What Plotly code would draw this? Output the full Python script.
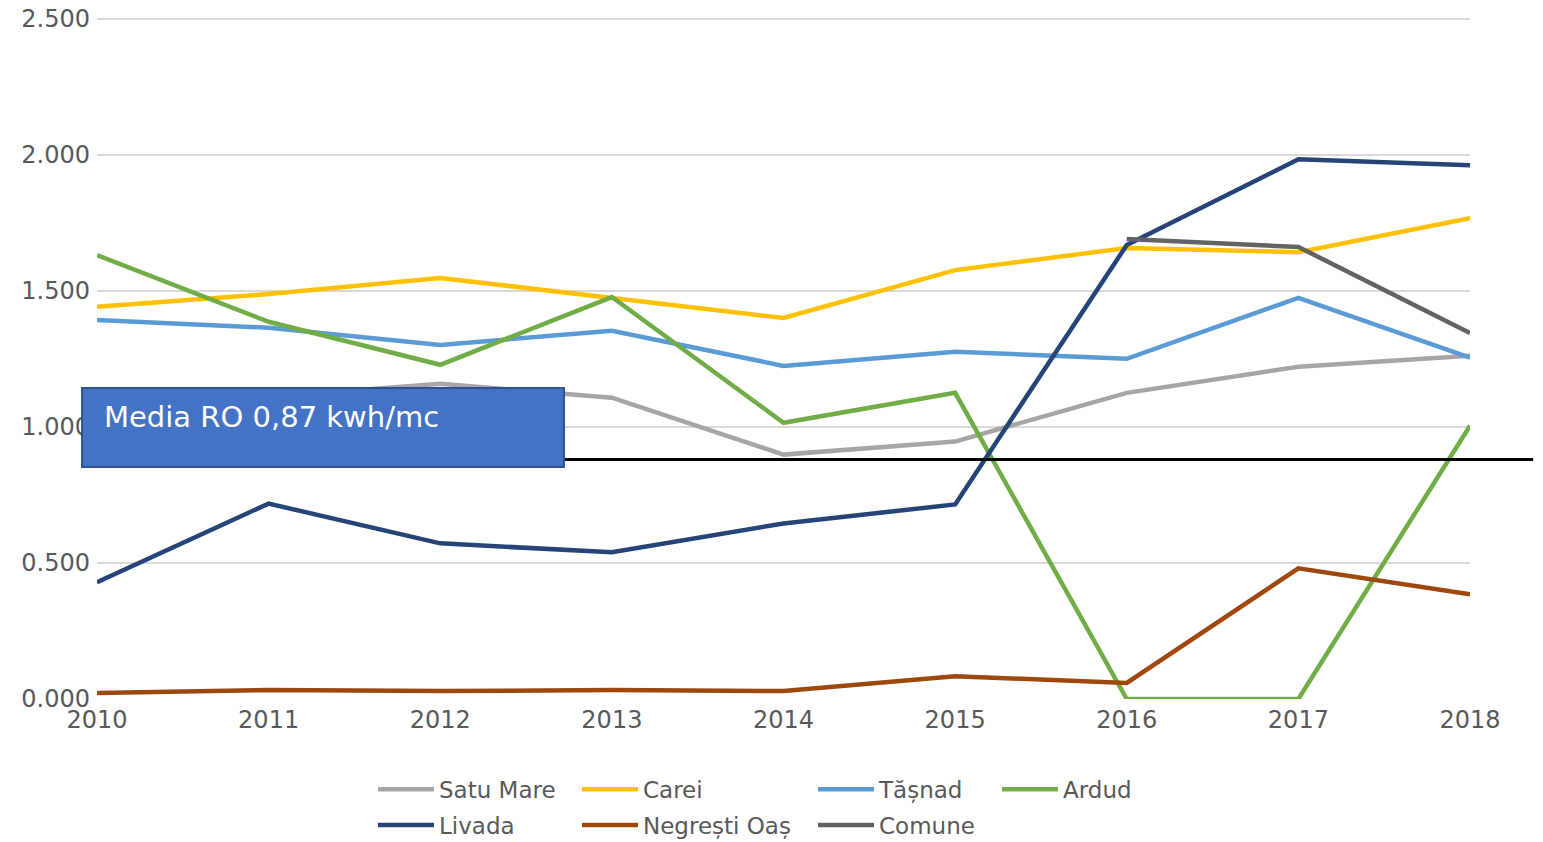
import plotly.graph_objects as go

years = [2010, 2011, 2012, 2013, 2014, 2015, 2016, 2017, 2018]
satu_mare = [1.08, 1.11, 1.158, 1.107, 0.898, 0.946, 1.125, 1.221, 1.261]
carei = [1.441, 1.488, 1.547, 1.474, 1.400, 1.576, 1.657, 1.642, 1.767]
tasnad = [1.393, 1.364, 1.301, 1.353, 1.224, 1.276, 1.250, 1.474, 1.254]
ardud = [1.631, 1.386, 1.228, 1.477, 1.015, 1.125, 0.0, 0.0, 1.004]
livada = [0.429, 0.718, 0.572, 0.539, 0.645, 0.715, 1.668, 1.983, 1.961]
negresti = [0.022, 0.033, 0.029, 0.033, 0.029, 0.084, 0.059, 0.480, 0.385]
comune = [None, None, None, None, None, None, 1.690, 1.661, 1.345]
media_ro = 0.88
y_ticks = [0, 0.5, 1.0, 1.5, 2.0, 2.5]

series = [
    ("Satu Mare", satu_mare, "#A5A5A5", "legend"),
    ("Carei", carei, "#FFC000", "legend2"),
    ("Tășnad", tasnad, "#5B9BD5", "legend3"),
    ("Ardud", ardud, "#70AD47", "legend4"),
    ("Livada", livada, "#264478", "legend"),
    ("Negrești Oaș", negresti, "#9E480E", "legend2"),
    ("Comune", comune, "#636363", "legend3"),
]

fig = go.Figure()
for name, vals, col, leg in series:
    fig.add_trace(go.Scatter(x=years, y=vals, name=name, mode="lines",
                             legend=leg, legendgroup=name,
                             line=dict(color=col, width=4.5)))

font_family = "DejaVu Sans"
legend_font = dict(size=23, color="#595959", family=font_family)


def leg(x):
    return dict(orientation="v", x=x, xanchor="left",
                yref="container", y=0.089, yanchor="top",
                font=legend_font, tracegroupgap=3, itemwidth=56,
                bgcolor="rgba(0,0,0,0)")


fig.update_layout(
    width=1535, height=834,
    margin=dict(l=89, r=73, t=9, b=143, autoexpand=False),
    plot_bgcolor="white", paper_bgcolor="white",
    font=dict(family=font_family, color="#595959", size=24),
    showlegend=True,
    legend=leg(0.2010),
    legend2=leg(0.3496),
    legend3=leg(0.5215),
    legend4=leg(0.6555),
    xaxis=dict(range=[2010, 2018], tickvals=years, ticktext=[str(y) for y in years],
               showgrid=False, zeroline=False, showline=False, ticks="",
               ticklabelstandoff=4, ticklabeloverflow="allow",
               tickfont=dict(size=24, color="#595959")),
    yaxis=dict(range=[0, 2.506], tickvals=y_ticks, tickformat=".3f",
               showgrid=True, gridcolor="#D9D9D9", gridwidth=1.5, zeroline=False,
               showline=False, ticks="", ticklabelstandoff=6,
               ticklabeloverflow="allow",
               tickfont=dict(size=24, color="#595959")),
)

# Media RO reference line
fig.add_shape(type="line", xref="paper", yref="y", x0=0, x1=1.046,
              y0=media_ro, y1=media_ro, line=dict(color="black", width=3),
              layer="above")
# Label box
fig.add_shape(type="rect", xref="paper", yref="paper", x0=-0.0109, x1=0.3401,
              y0=0.3402, y1=0.456, fillcolor="#4472C4",
              line=dict(color="#2F528F", width=2), layer="above")
fig.add_annotation(xref="paper", yref="paper", x=0.0036, y=0.4135,
                   xanchor="left", yanchor="middle", showarrow=False,
                   text="Media RO 0,87 kwh/mc",
                   font=dict(size=29, color="white", family=font_family))

fig.write_html("out.html")
